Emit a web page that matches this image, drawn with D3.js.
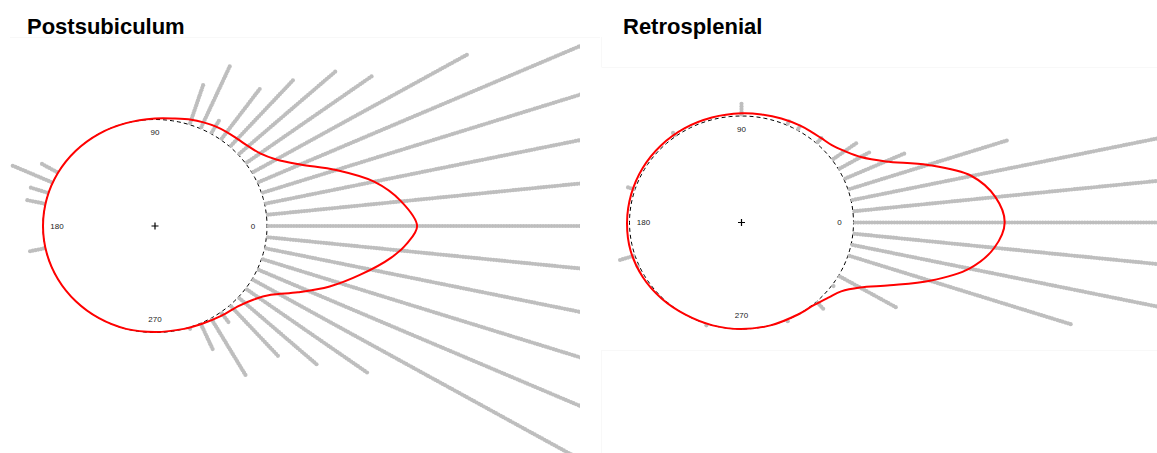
<!DOCTYPE html>
<html>
<head>
<meta charset="utf-8">
<script src="https://cdn.jsdelivr.net/npm/d3@7"></script>
<style>
  body { margin: 0; background: #fff; }
  svg { display: block; }
</style>
</head>
<body>
<svg id="chart" width="1157" height="453"></svg>
<script>
// ---- Data -------------------------------------------------------------
const panelTitles = ["Postsubiculum", "Retrosplenial"];

// Stacked observations: bin centre (degrees) and number of points per bin
const psBinAngles = [0, 6, 12, 18, 24, 30, 36, 42, 48, 54, 60, 66, 72,
                     150, 156, 162, 168, 192,
                     288, 294, 300, 306, 312, 318, 324, 330, 336, 342, 348, 354];
const psBinCounts = [230, 215, 190, 165, 140, 89, 56, 47, 34, 24, 6, 26, 16,
                     7, 16, 7, 7, 6,
                     1, 11, 25, 5, 26, 38, 54, 150, 165, 185, 205, 220];

const rsBinAngles = [0, 6, 12, 18, 24, 30, 36, 48, 60, 66, 90,
                     126, 162, 198, 204, 252,
                     294, 312, 324, 330, 342, 348, 354];
const rsBinCounts = [230, 215, 190, 60, 24, 13, 11, 3, 2, 2, 5,
                     2, 3, 6, 1, 1,
                     1, 4, 1, 24, 84, 190, 215];

// Circular kernel density, drawn as radius (reference circle = 1)
const psDensAngles = [0, 6, 12, 18, 24, 30, 36, 42, 48, 54, 60, 66, 72, 80, 90,
                      105, 120, 135, 150, 165, 180, 195, 210, 225, 240, 255, 270,
                      285, 295, 305, 315, 322, 328, 334, 340, 346, 352, 356];
const psDensRadius = [2.34, 2.21, 2.00, 1.70, 1.42, 1.25, 1.16, 1.12, 1.10, 1.09, 1.08, 1.065, 1.05, 1.025, 1.01,
                      1.0, 1.0, 1.0, 1.0, 1.0, 1.0, 1.0, 1.0, 1.0, 1.0, 1.0, 0.995,
                      1.0, 1.01, 1.03, 1.06, 1.12, 1.22, 1.42, 1.66, 1.89, 2.13, 2.26];

const rsDensAngles = [0, 6, 12, 18, 24, 30, 36, 42, 48, 54, 60, 70, 80, 90,
                      105, 120, 135, 150, 165, 180, 195, 210, 225, 240, 255, 270,
                      285, 300, 310, 318, 324, 330, 336, 342, 348, 354];
const rsDensRadius = [2.35, 2.28, 2.10, 1.75, 1.41, 1.23, 1.14, 1.085, 1.065, 1.055, 1.05, 1.04, 1.03, 1.025,
                      1.02, 1.02, 1.02, 1.02, 1.02, 1.022, 1.025, 1.02, 1.01, 1.0, 1.0, 1.0,
                      1.0, 1.0, 1.01, 1.05, 1.10, 1.22, 1.45, 1.77, 2.08, 2.27];

const dirLabels = ["0", "90", "180", "270"];
const dirLabelAngles = [0, 90, 180, 270];

// ---- Drawing ----------------------------------------------------------
const svg = d3.select("#chart");
const rad = d => d * Math.PI / 180;
const stackSep = 0.025;     // radial spacing between stacked points
const labelRadius = 0.875;

const panels = [
  { title: panelTitles[0], titleX: 27, cx: 155, cy: 226, rx: 112, ry: 106.5,
    clip: [0, 0, 580, 453], bins: psBinAngles, counts: psBinCounts,
    dA: psDensAngles, dR: psDensRadius },
  { title: panelTitles[1], titleX: 623, cx: 741.5, cy: 222.5, rx: 112, ry: 106.5,
    clip: [600, 0, 557, 453], bins: rsBinAngles, counts: rsBinCounts,
    dA: rsDensAngles, dR: rsDensRadius }
];

// faint frame remnants
const faint = "#f8f8f8";
svg.append("line").attr("x1", 10).attr("x2", 600).attr("y1", 37.5).attr("y2", 37.5)
  .attr("stroke", faint);
svg.append("line").attr("x1", 601.5).attr("x2", 601.5).attr("y1", 37).attr("y2", 67)
  .attr("stroke", faint);
svg.append("line").attr("x1", 601.5).attr("x2", 1157).attr("y1", 67.5).attr("y2", 67.5)
  .attr("stroke", faint);
svg.append("line").attr("x1", 601.5).attr("x2", 1157).attr("y1", 350.5).attr("y2", 350.5)
  .attr("stroke", faint);
svg.append("line").attr("x1", 601.5).attr("x2", 601.5).attr("y1", 350).attr("y2", 453)
  .attr("stroke", faint);

panels.forEach((p, i) => {
  const sx = d3.scaleLinear().domain([-1, 1]).range([p.cx - p.rx, p.cx + p.rx]);
  const sy = d3.scaleLinear().domain([-1, 1]).range([p.cy + p.ry, p.cy - p.ry]);

  const clipId = "clip" + i;
  svg.append("clipPath").attr("id", clipId)
    .append("rect").attr("x", p.clip[0]).attr("y", p.clip[1])
    .attr("width", p.clip[2]).attr("height", p.clip[3]);

  const g = svg.append("g").attr("clip-path", `url(#${clipId})`);

  // reference circle (dashed)
  const circleLine = d3.line()
    .x(a => sx(Math.cos(rad(a))))
    .y(a => sy(Math.sin(rad(a))))
    .curve(d3.curveCardinalClosed);
  g.append("path")
    .attr("d", circleLine(d3.range(0, 360, 3)))
    .attr("fill", "none").attr("stroke", "#000")
    .attr("stroke-width", 1).attr("stroke-dasharray", "4,3");

  // stacked points along each bin direction
  const pts = [];
  p.bins.forEach((a, j) => {
    for (let k = 0; k < p.counts[j]; k++) {
      const r = 1 + stackSep * (k + 0.6);
      pts.push({ x: sx(r * Math.cos(rad(a))), y: sy(r * Math.sin(rad(a))) });
    }
  });
  g.append("g").selectAll("circle").data(pts).join("circle")
    .attr("cx", d => d.x).attr("cy", d => d.y).attr("r", 2.1)
    .attr("fill", "#bebebe");

  // direction labels
  g.selectAll("text.dir").data(dirLabelAngles).join("text")
    .attr("class", "dir")
    .attr("x", a => sx(labelRadius * Math.cos(rad(a))))
    .attr("y", a => sy(labelRadius * Math.sin(rad(a))))
    .attr("text-anchor", "middle").attr("dominant-baseline", "central")
    .attr("font-family", "Liberation Sans, Arial, sans-serif")
    .attr("font-size", 8).attr("fill", "#222")
    .text((a, j) => dirLabels[j]);

  // centre mark
  g.append("path")
    .attr("d", `M${sx(0) - 3.5},${sy(0)}H${sx(0) + 3.5}M${sx(0)},${sy(0) - 3.5}V${sy(0) + 3.5}`)
    .attr("stroke", "#000").attr("stroke-width", 1.2);

  // density curve
  const dens = p.dA.map((a, j) => ({ a, r: p.dR[j] }));
  const densLine = d3.line()
    .x(d => sx(d.r * Math.cos(rad(d.a))))
    .y(d => sy(d.r * Math.sin(rad(d.a))))
    .curve(d3.curveCatmullRomClosed.alpha(0.5));
  g.append("path").attr("d", densLine(dens))
    .attr("fill", "none").attr("stroke", "#ff0000").attr("stroke-width", 2);

  // title
  svg.append("text")
    .attr("x", p.titleX).attr("y", 34)
    .attr("font-family", "Liberation Sans, Arial, sans-serif")
    .attr("font-weight", "bold").attr("font-size", 22).attr("fill", "#000")
    .text(p.title);
});
</script>
</body>
</html>
